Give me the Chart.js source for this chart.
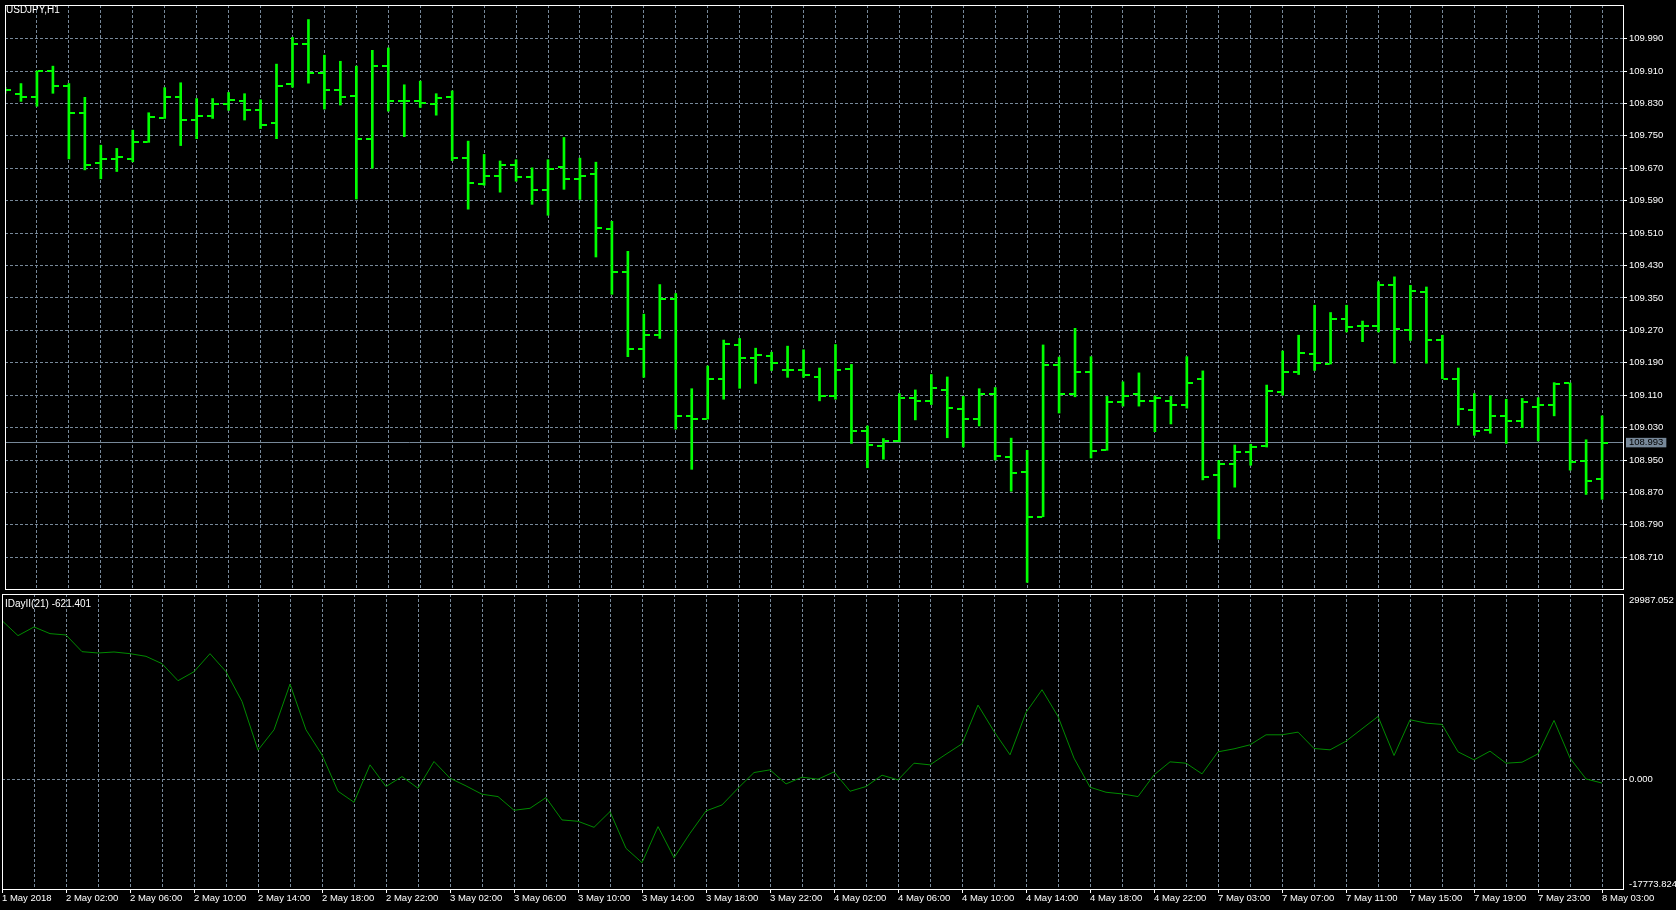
<!DOCTYPE html>
<html>
<head>
<meta charset="utf-8">
<title>USDJPY,H1</title>
<script src="https://cdn.jsdelivr.net/npm/chart.js@4.4.1/dist/chart.umd.min.js"></script>
<style>
  html, body { margin: 0; padding: 0; background: #000; }
  body { width: 1676px; height: 910px; position: relative; overflow: hidden; font-family: "Liberation Sans", Arial, sans-serif; }
  #priceChart { position: absolute; left: 0; top: 0; }
  #indChart { position: absolute; left: 0; top: 593px; }
  .caption { position: absolute; color: #fff; font-size: 10px; line-height: 10px; white-space: nowrap; }
</style>
</head>
<body>
<canvas id="priceChart" width="1676" height="594"></canvas>
<canvas id="indChart" width="1676" height="317"></canvas>
<div class="caption" style="left:6px; top:5px;">USDJPY,H1</div>
<div class="caption" style="left:5px; top:599px;">IDayII(21) -621.401</div>
<script>
// H1 bars, 1 May 22:00 .. 8 May 03:00
const opens = [
  109.860, 109.853, 109.845, 109.910, 109.872, 109.806, 109.683, 109.693, 109.692, 109.734,
  109.793, 109.845, 109.788, 109.798, 109.828, 109.837, 109.813, 109.781, 109.879, 109.977,
  109.904, 109.864, 109.848, 109.742, 109.923, 109.837, 109.837, 109.828, 109.845, 109.696,
  109.632, 109.652, 109.679, 109.649, 109.616, 109.674, 109.644, 109.656, 109.520, 109.413,
  109.225, 109.259, 109.347, 109.058, 109.051, 109.149, 109.234, 109.202, 109.207, 109.173,
  109.173, 109.156, 109.107, 109.175, 109.021, 108.984, 108.997, 109.102, 109.095, 109.124,
  109.075, 109.051, 109.114, 108.958, 108.921, 108.810, 109.185, 109.112, 109.168, 108.974,
  109.093, 109.114, 109.095, 109.095, 109.087, 109.149, 108.912, 108.939, 108.970, 108.984,
  109.117, 109.168, 109.212, 109.187, 109.298, 109.281, 109.281, 109.381, 109.272, 109.365,
  109.247, 109.149, 109.073, 109.023, 109.058, 109.046, 109.080, 109.085, 109.139, 108.948,
  108.902
];
const highs = [
  109.870, 109.879, 109.910, 109.922, 109.879, 109.845, 109.727, 109.719, 109.764, 109.807,
  109.869, 109.881, 109.842, 109.842, 109.857, 109.854, 109.839, 109.927, 109.993, 110.037,
  109.949, 109.934, 109.922, 109.961, 109.967, 109.876, 109.885, 109.854, 109.861, 109.737,
  109.704, 109.688, 109.691, 109.671, 109.691, 109.746, 109.695, 109.685, 109.539, 109.465,
  109.310, 109.383, 109.361, 109.126, 109.182, 109.246, 109.250, 109.226, 109.216, 109.231,
  109.222, 109.177, 109.235, 109.186, 109.034, 109.003, 109.114, 109.123, 109.161, 109.155,
  109.107, 109.126, 109.129, 109.004, 108.974, 109.234, 109.204, 109.275, 109.205, 109.107,
  109.143, 109.165, 109.108, 109.107, 109.205, 109.170, 108.949, 108.987, 108.989, 109.135,
  109.219, 109.258, 109.332, 109.314, 109.332, 109.293, 109.390, 109.402, 109.381, 109.377,
  109.258, 109.177, 109.114, 109.109, 109.100, 109.102, 109.104, 109.141, 109.140, 109.000,
  109.059
];
const lows = [
  109.855, 109.835, 109.823, 109.855, 109.693, 109.666, 109.644, 109.662, 109.686, 109.734,
  109.793, 109.726, 109.743, 109.793, 109.813, 109.789, 109.768, 109.743, 109.870, 109.880,
  109.816, 109.826, 109.594, 109.670, 109.811, 109.748, 109.820, 109.801, 109.689, 109.569,
  109.628, 109.611, 109.638, 109.581, 109.554, 109.618, 109.593, 109.451, 109.359, 109.205,
  109.154, 109.250, 109.026, 108.927, 109.051, 109.100, 109.127, 109.139, 109.171, 109.154,
  109.154, 109.096, 109.100, 108.991, 108.931, 108.952, 108.995, 109.049, 109.087, 109.005,
  108.982, 109.034, 108.950, 108.873, 108.648, 108.810, 109.066, 109.106, 108.955, 108.974,
  109.083, 109.083, 109.020, 109.039, 109.078, 108.901, 108.755, 108.883, 108.937, 108.982,
  109.110, 109.161, 109.171, 109.187, 109.266, 109.242, 109.266, 109.189, 109.245, 109.189,
  109.151, 109.036, 109.011, 109.016, 108.991, 109.030, 108.997, 109.059, 108.925, 108.865,
  108.853
];
const closes = [
  109.864, 109.845, 109.910, 109.872, 109.806, 109.679, 109.693, 109.699, 109.734, 109.796,
  109.845, 109.788, 109.798, 109.828, 109.839, 109.813, 109.776, 109.872, 109.977, 109.904,
  109.862, 109.845, 109.742, 109.923, 109.837, 109.837, 109.832, 109.843, 109.696, 109.634,
  109.652, 109.677, 109.649, 109.616, 109.669, 109.644, 109.652, 109.522, 109.413, 109.225,
  109.259, 109.347, 109.058, 109.051, 109.149, 109.236, 109.202, 109.210, 109.190, 109.171,
  109.159, 109.107, 109.173, 109.021, 108.987, 108.997, 109.102, 109.095, 109.127, 109.078,
  109.051, 109.114, 108.960, 108.919, 108.810, 109.185, 109.112, 109.168, 108.972, 109.093,
  109.107, 109.095, 109.102, 109.087, 109.141, 108.909, 108.939, 108.970, 108.982, 109.120,
  109.168, 109.214, 109.190, 109.299, 109.278, 109.281, 109.381, 109.273, 109.368, 109.247,
  109.151, 109.075, 109.021, 109.058, 109.046, 109.092, 109.085, 109.138, 108.945, 108.899,
  108.993
];
const lastPrice = 108.993;

// IDayII(21) values per bar
const indValues = [
  25679, 23246, 24651, 23570, 23354, 20651, 20435, 20597, 20327, 19894,
  18705, 15948, 17407, 20327, 17407, 12596, 4703, 8001, 15407, 8001,
  3946, -1946, -3730, 2325, -1189, 432, -1460, 2865, 162, -1081,
  -2433, -2811, -5028, -4703, -2973, -6595, -6812, -7785, -5244, -11190,
  -13515, -7677, -12704, -8758, -5136, -4163, -1460, 1081, 1514, -757,
  324, 0, 1189, -1946, -1189, 649, -108, 2595, 2325, 4055,
  5730, 12001, 7731, 3946, 10812, 14488, 10163, 3406, -1297, -2108,
  -2379, -2811, 703, 2811, 2595, 865, 4433, 4919, 5568, 7190,
  7190, 7622, 4974, 4757, 6163, 8163, 10163, 3838, 9623, 9082,
  8866, 4433, 3135, 4541, 2595, 2757, 4109, 9515, 3406, 40,
  -621
];

// one label every 4 bars, starting at bar 0
const timeTicks = [
  "1 May 2018", "2 May 02:00", "2 May 06:00", "2 May 10:00", "2 May 14:00", "2 May 18:00",
  "2 May 22:00", "3 May 02:00", "3 May 06:00", "3 May 10:00", "3 May 14:00", "3 May 18:00",
  "3 May 22:00", "4 May 02:00", "4 May 06:00", "4 May 10:00", "4 May 14:00", "4 May 18:00",
  "4 May 22:00", "7 May 03:00", "7 May 07:00", "7 May 11:00", "7 May 15:00", "7 May 19:00",
  "7 May 23:00", "8 May 03:00"
];
const priceTicks = [
  108.710, 108.790, 108.870, 108.950, 109.030, 109.110, 109.190, 109.270, 109.350,
  109.430, 109.510, 109.590, 109.670, 109.750, 109.830, 109.910, 109.990
];
const priceMin = 108.6317, priceMax = 110.0729;
const indMin = -17773.824, indMax = 29987.052;
// where the edge labels sit (just inside the window) and their texts
const indTickPos = [29016, 0, -17013];
const indTickText = ["29987.052", "0.000", "-17773.824"];

const BAR_COLOR = "#00ff00";
const IND_COLOR = "#008a00";
const GRID = "#778899";
const CLEAR = "rgba(0,0,0,0)";
const FONT = { family: "Liberation Sans", size: 9.5, lineHeight: 1 };
const X_MIN = 0, X_MAX = 101.31;

function tickImage(side) {
  const c = document.createElement("canvas");
  c.width = 12;
  c.height = 2;
  const g = c.getContext("2d");
  g.fillStyle = BAR_COLOR;
  if (side === "left") g.fillRect(0, 0, 5, 2);
  else g.fillRect(7, 0, 5, 2);
  return c;
}

function evenBarTicks(scale) {
  const t = [];
  for (let v = 0; v < opens.length; v += 2) t.push({ value: v });
  scale.ticks = t;
}

// keep the plot area where the layout padding puts it
function fitWidth(w) {
  return (s) => { s.width = w; s.paddingTop = 0; s.paddingBottom = 0; };
}
function fitHeight(h) {
  return (s) => { s.height = h; s.paddingLeft = 0; s.paddingRight = 0; };
}

const framePlugin = {
  id: "frame",
  afterDraw(chart) {
    const { ctx, chartArea: a } = chart;
    ctx.save();
    ctx.strokeStyle = "#ffffff";
    ctx.lineWidth = 1;
    ctx.strokeRect(a.left + 0.5, a.top + 0.5, a.right - a.left, a.bottom - a.top);
    ctx.restore();
  },
};

const common = {
  responsive: false,
  animation: false,
  events: [],
  plugins: { legend: { display: false }, tooltip: { enabled: false } },
};

new Chart(document.getElementById("priceChart"), {
  type: "bar",
  data: {
    datasets: [
      {
        type: "bar",
        data: highs.map((h, i) => ({ x: i, y: [lows[i], h] })),
        backgroundColor: BAR_COLOR,
        borderWidth: 0,
        barThickness: 2,
        grouped: false,
        clip: 0,
      },
      {
        type: "scatter",
        data: opens.map((v, i) => ({ x: i, y: v })),
        pointStyle: tickImage("left"),
        pointRadius: 3,
        clip: 0,
      },
      {
        type: "scatter",
        data: closes.map((v, i) => ({ x: i, y: v })),
        pointStyle: tickImage("right"),
        pointRadius: 3,
        clip: 0,
      },
    ],
  },
  options: {
    ...common,
    layout: { padding: { left: 2, top: 2, right: 0, bottom: 3 } },
    scales: {
      x: {
        type: "linear",
        min: X_MIN,
        max: X_MAX,
        offset: false,
        afterBuildTicks: evenBarTicks,
        afterFit: fitHeight(0),
        ticks: { display: false },
        grid: { color: GRID, drawTicks: false, offset: false },
        border: { display: false, dash: [3, 2] },
      },
      y: {
        position: "right",
        min: priceMin,
        max: priceMax,
        afterBuildTicks: (s) => {
          s.ticks = priceTicks.concat([lastPrice]).map((v) => ({ value: v }));
        },
        afterFit: fitWidth(53),
        ticks: {
          autoSkip: false,
          font: FONT,
          padding: 2,
          color: (c) => (c.tick && c.tick.value === lastPrice ? "#000000" : "#ffffff"),
          showLabelBackdrop: (c) => !!(c.tick && c.tick.value === lastPrice),
          backdropColor: GRID,
          backdropPadding: { left: 3, right: 3, top: 0, bottom: 0 },
          callback: (v) => v.toFixed(3),
        },
        grid: {
          color: GRID,
          tickLength: 4,
          tickColor: (c) => (c.tick && c.tick.value === lastPrice ? CLEAR : "#ffffff"),
        },
        border: {
          display: false,
          dash: (c) => (c.tick && c.tick.value === lastPrice ? [] : [3, 2]),
        },
      },
    },
  },
  plugins: [framePlugin],
});

new Chart(document.getElementById("indChart"), {
  type: "line",
  data: {
    datasets: [
      {
        data: indValues.map((v, i) => ({ x: i, y: v })),
        borderColor: IND_COLOR,
        borderWidth: 1,
        pointRadius: 0,
        tension: 0,
        clip: 0,
      },
    ],
  },
  options: {
    ...common,
    layout: { padding: { left: 2, top: 1, right: 0, bottom: 0 } },
    scales: {
      x: {
        type: "linear",
        min: X_MIN,
        max: X_MAX,
        offset: false,
        afterBuildTicks: evenBarTicks,
        afterFit: fitHeight(21),
        ticks: {
          autoSkip: false,
          maxRotation: 0,
          align: "start",
          padding: 1,
          color: "#ffffff",
          font: FONT,
          callback: (v) => (v % 4 === 0 ? timeTicks[v / 4] : ""),
        },
        grid: {
          color: GRID,
          tickLength: 4,
          offset: false,
          tickColor: (c) => (c.tick && c.tick.value % 4 === 0 ? "#ffffff" : CLEAR),
        },
        border: { display: false, dash: [3, 2] },
      },
      y: {
        position: "right",
        min: indMin,
        max: indMax,
        afterBuildTicks: (s) => { s.ticks = indTickPos.map((v) => ({ value: v })); },
        afterFit: fitWidth(53),
        ticks: {
          autoSkip: false,
          font: FONT,
          padding: 2,
          color: "#ffffff",
          callback: (v, i) => indTickText[i],
        },
        grid: {
          color: (c) => (c.tick && c.tick.value === 0 ? GRID : CLEAR),
          tickLength: 4,
          tickColor: (c) => (c.tick && c.tick.value === 0 ? "#ffffff" : CLEAR),
        },
        border: { display: false, dash: [3, 2] },
      },
    },
  },
  plugins: [framePlugin],
});
</script>
</body>
</html>
